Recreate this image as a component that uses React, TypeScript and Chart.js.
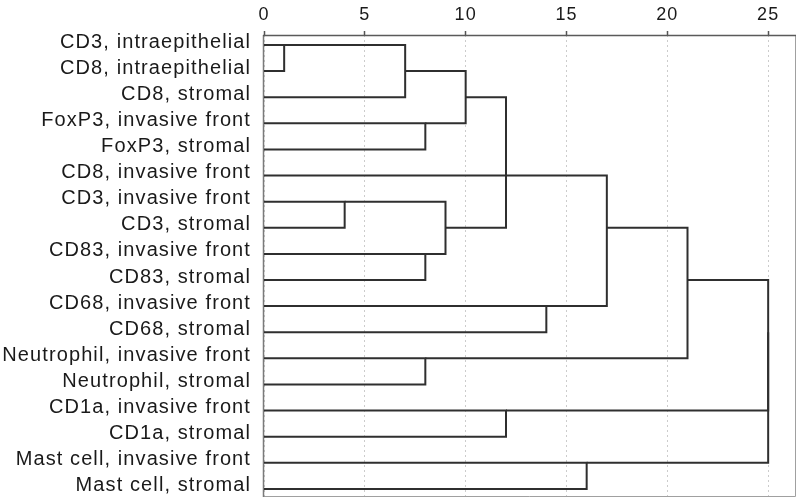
import React, { useEffect, useRef } from "react";
import { Chart, registerables } from "chart.js";

Chart.register(...registerables);

// Leaf labels, top to bottom
const leafLabels = [
  "CD3, intraepithelial",
  "CD8, intraepithelial",
  "CD8, stromal",
  "FoxP3, invasive front",
  "FoxP3, stromal",
  "CD8, invasive front",
  "CD3, invasive front",
  "CD3, stromal",
  "CD83, invasive front",
  "CD83, stromal",
  "CD68, invasive front",
  "CD68, stromal",
  "Neutrophil, invasive front",
  "Neutrophil, stromal",
  "CD1a, invasive front",
  "CD1a, stromal",
  "Mast cell, invasive front",
  "Mast cell, stromal",
];

// Agglomeration schedule: leaves are 0..17, merge k creates node 18 + k
const mergeLeft = [0, 18, 3, 19, 6, 8, 22, 21, 25, 10, 26, 12, 28, 14, 16, 30, 33];
const mergeRight = [1, 2, 4, 20, 7, 9, 23, 5, 24, 11, 27, 13, 29, 15, 17, 31, 32];
const mergeDistance = [1, 7, 8, 10, 4, 8, 9, 12, 12, 14, 17, 8, 21, 12, 16, 25, 25];

// Rescaled distance axis ticks
const xTickValues = [0, 5, 10, 15, 20, 25];
const xMax = 26.38;
const yMin = -0.383;
const yMax = 17.31;

function buildDatasets() {
  const n = leafLabels.length;
  const nodeY: number[] = leafLabels.map((_, i) => i);
  const nodeH: number[] = leafLabels.map(() => 0);
  const datasets: any[] = [];
  mergeDistance.forEach((h, k) => {
    const a = mergeLeft[k];
    const b = mergeRight[k];
    const ya = nodeY[a];
    const yb = nodeY[b];
    datasets.push({
      data: [
        { x: nodeH[a], y: ya },
        { x: h, y: ya },
        { x: h, y: yb },
        { x: nodeH[b], y: yb },
      ],
      showLine: true,
      borderColor: "#2f2f2f",
      borderWidth: 2,
      pointRadius: 0,
      pointHoverRadius: 0,
      tension: 0,
      borderJoinStyle: "miter",
      borderCapStyle: "butt",
      fill: false,
    });
    nodeY[n + k] = Math.floor((ya + yb) / 2);
    nodeH[n + k] = h;
  });
  return datasets;
}

const framePlugin = {
  id: "frame",
  beforeDraw(chart: any) {
    (chart.ctx as any).letterSpacing = "1.1px";
  },
  afterDraw(chart: any) {
    (chart.ctx as any).letterSpacing = "0px";
  },
  beforeDatasetsDraw(chart: any) {
    const { ctx, chartArea } = chart;
    const { left, right, top, bottom } = chartArea;
    ctx.save();
    ctx.lineWidth = 1;
    ctx.strokeStyle = "#a0a0a0";
    ctx.beginPath();
    ctx.moveTo(right - 0.5, top);
    ctx.lineTo(right - 0.5, bottom - 0.5);
    ctx.lineTo(left, bottom - 0.5);
    ctx.stroke();
    ctx.strokeStyle = "#7a7a7a";
    ctx.lineWidth = 1.5;
    ctx.beginPath();
    ctx.moveTo(left - 0.5, top);
    ctx.lineTo(left - 0.5, bottom);
    ctx.stroke();
    ctx.strokeStyle = "#5a5a5a";
    ctx.beginPath();
    ctx.moveTo(left - 1, top + 0.5);
    ctx.lineTo(right, top + 0.5);
    ctx.stroke();
    ctx.restore();
  },
};

const FONT = "'Liberation Sans', Arial, Helvetica, sans-serif";

export default function App() {
  const canvasRef = useRef<HTMLCanvasElement | null>(null);

  useEffect(() => {
    const canvas = canvasRef.current;
    if (!canvas) return;
    const chart = new Chart(canvas, {
      type: "scatter",
      data: { datasets: buildDatasets() },
      options: {
        animation: false,
        responsive: false,
        devicePixelRatio: 1,
        layout: { padding: { top: 0, right: 2, bottom: 4, left: 0 } },
        plugins: {
          legend: { display: false },
          tooltip: { enabled: false },
        },
        events: [],
        scales: {
          x: {
            type: "linear",
            position: "top",
            min: 0,
            max: xMax,
            afterBuildTicks: (scale: any) => {
              scale.ticks = xTickValues.map((v) => ({ value: v }));
            },
            afterFit: (scale: any) => {
              scale.height = 35;
              scale.paddingLeft = 0;
              scale.paddingRight = 0;
            },
            ticks: {
              color: "#1a1a1a",
              font: { family: FONT, size: 18 },
              padding: 5,
              maxRotation: 0,
              autoSkip: false,
            },
            grid: {
              color: "#cccccc",
              lineWidth: 1,
              drawTicks: true,
              tickLength: 4,
              tickColor: "#555",
              tickWidth: 1.5,
            },
            border: { display: false, dash: [2, 3] },
          },
          y: {
            type: "linear",
            reverse: true,
            min: yMin,
            max: yMax,
            afterBuildTicks: (scale: any) => {
              scale.ticks = leafLabels.map((_, i) => ({ value: i }));
            },
            afterFit: (scale: any) => {
              scale.width = 264;
              scale.paddingTop = 0;
              scale.paddingBottom = 0;
            },
            ticks: {
              color: "#1a1a1a",
              font: { family: FONT, size: 20 },
              padding: 13,
              autoSkip: false,
              labelOffset: -3,
              callback: (v: any) => leafLabels[Math.round(Number(v))] ?? "",
            },
            grid: { display: false, drawTicks: false },
            border: { display: false },
          },
        },
      },
      plugins: [framePlugin],
    });
    return () => chart.destroy();
  }, []);

  return (
    <div style={{ position: "absolute", left: 0, top: 0, width: 798, height: 501, background: "#fff" }}>
      <canvas ref={canvasRef} width={798} height={501} style={{ display: "block" }} />
    </div>
  );
}
